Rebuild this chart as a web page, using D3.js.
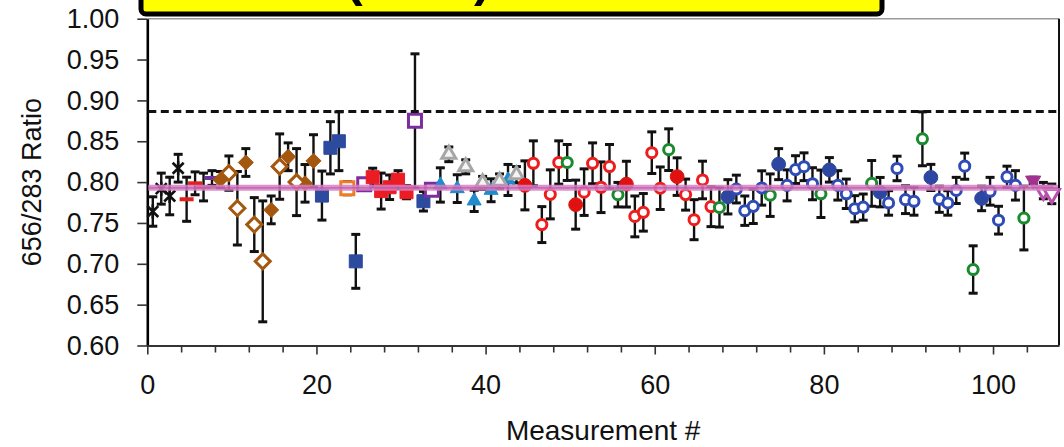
<!DOCTYPE html>
<html>
<head>
<meta charset="utf-8">
<script src="https://cdn.jsdelivr.net/npm/d3@7"></script>
<style>
  html, body { margin: 0; padding: 0; background: #ffffff; }
  svg { display: block; }
  text { font-family: "Liberation Sans", Arial, sans-serif; }
</style>
</head>
<body>
<svg id="chart" width="1064" height="447"></svg>
<script>
// ---------- DATA (measurement #, 656/283 ratio, ± error) ----------
const blackStars      = [[0.65,0.764,0.018],[1.65,0.792,0.019],[2.65,0.783,0.023],[3.65,0.817,0.017]];
const redDashes       = [[4.65,0.779,0.027],[5.65,0.7985,0.014],[6.65,0.794,0.017]];
const purpleDashes    = [[7.65,0.805,0.009]];
const brownDiamonds   = [[8.65,0.803,0.010],[11.65,0.824,0.017],[14.65,0.766,0.017],[16.65,0.831,0.017],[18.65,0.7985,0.023],[19.65,0.826,0.032]];
const brownOpenDiam   = [[9.65,0.811,0.021],[10.65,0.768,0.045],[12.65,0.748,0.033],[13.65,0.703,0.074],[15.65,0.819,0.040],[17.65,0.800,0.041]];
const blueSquares     = [[20.65,0.7835,0.030],[21.65,0.842,0.032],[22.65,0.850,0.036],[24.65,0.703,0.033],[32.65,0.7766,0.012]];
const orangeOpenSq    = [[23.65,0.7925,0.008]];
const purpleOpenSq    = [[25.65,0.7975,0.006],[31.65,0.875,0.082],[33.65,0.7905,0.006]];
const redSquares      = [[26.65,0.806,0.011],[27.65,0.789,0.022],[28.65,0.7937,0.015],[29.65,0.803,0.011],[30.65,0.7876,0.008]];
const blueTriangles   = [[34.65,0.7965,0.021],[36.65,0.792,0.017],[38.65,0.777,0.013],[40.65,0.790,0.014],[42.65,0.8026,0.019]];
const grayOpenTri     = [[35.65,0.834,0.009],[37.65,0.8187,0.0086],[39.65,0.799,0.008],[41.65,0.801,0.009],[43.65,0.809,0.010]];
const redDots         = [[44.65,0.796,0.030],[50.65,0.7724,0.030],[56.65,0.7975,0.028],[62.65,0.8067,0.023]];
const redRings        = [[45.65,0.823,0.0275],[46.65,0.748,0.022],[47.65,0.785,0.030],[48.65,0.824,0.0265],[51.65,0.7877,0.0285],[52.65,0.823,0.025],[53.65,0.7937,0.031],[54.65,0.819,0.027],[57.65,0.758,0.025],[58.65,0.763,0.023],[59.65,0.836,0.0255],[60.65,0.7925,0.026],[63.65,0.7847,0.019],[64.65,0.754,0.0245],[65.65,0.8026,0.023],[66.65,0.770,0.0245]];
const greenRings      = [[49.65,0.824,0.022],[55.65,0.7846,0.015],[61.65,0.8397,0.0255],[67.65,0.769,0.024],[73.65,0.784,0.026],[79.65,0.7857,0.029],[85.65,0.7984,0.028],[91.65,0.853,0.033],[97.65,0.693,0.029],[103.65,0.756,0.039]];
const navyDots        = [[68.65,0.782,0.021],[74.65,0.822,0.019],[80.65,0.815,0.015],[86.65,0.7877,0.018],[92.65,0.8057,0.016],[98.65,0.780,0.015]];
const navyRings       = [[69.65,0.7915,0.017],[70.65,0.765,0.018],[71.65,0.7703,0.021],[72.65,0.7928,0.021],[75.65,0.796,0.019],[76.65,0.8153,0.017],[77.65,0.8188,0.017],[78.65,0.798,0.0196],[81.65,0.796,0.018],[82.65,0.7857,0.018],[83.65,0.7674,0.016],[84.65,0.7694,0.016],[87.65,0.7745,0.015],[88.65,0.8167,0.015],[89.65,0.7785,0.017],[90.65,0.7765,0.017],[93.65,0.779,0.016],[94.65,0.7745,0.015],[95.65,0.7898,0.016],[96.65,0.8195,0.016],[99.65,0.7888,0.017],[100.65,0.7534,0.017],[101.65,0.8065,0.013],[102.65,0.796,0.018]];
const magentaDownTri  = [[104.75,0.802,0.004]];
const magentaOpenDown = [[105.95,0.7896,0.010],[106.95,0.7856,0.012]];

const meanRatio   = 0.793;   // pink reference line
const limitRatio  = 0.8865;  // dashed line
const yTicks      = [0.60,0.65,0.70,0.75,0.80,0.85,0.90,0.95,1.00];
const xMajorTicks = [0,20,40,60,80,100];
const xMinorTicks = [4,8,12,16,24,28,32,36,44,48,52,56,64,68,72,76,84,88,92,96,104];
const titleParts  = ["RATIO", "(2016)", "RESULTS"];

// ---------- SERIES STYLES ----------
const series = [
  {data: blackStars,      shape: "star",    fill: "none",    stroke: "#111111"},
  {data: redDashes,       shape: "dash",    fill: "#e3201b", stroke: "none"},
  {data: purpleDashes,    shape: "dash",    fill: "#7030a0", stroke: "none"},
  {data: brownDiamonds,   shape: "diamond", fill: "#a3570f", stroke: "#a3570f"},
  {data: brownOpenDiam,   shape: "diamond", fill: "#ffffff", stroke: "#a3570f", open: true},
  {data: blueSquares,     shape: "square",  fill: "#2c4a9e", stroke: "#2c4a9e"},
  {data: orangeOpenSq,    shape: "square",  fill: "#ffffff", stroke: "#ef7c21", open: true},
  {data: purpleOpenSq,    shape: "square",  fill: "#ffffff", stroke: "#7b2f9d", open: true},
  {data: redSquares,      shape: "square",  fill: "#ec1c24", stroke: "#ec1c24"},
  {data: blueTriangles,   shape: "tri",     fill: "#1f8ccb", stroke: "#1f8ccb"},
  {data: grayOpenTri,     shape: "tri",     fill: "#f4f4f4", stroke: "#a6a6a6", open: true},
  {data: redDots,         shape: "circle",  fill: "#e0120f", stroke: "#e0120f"},
  {data: redRings,        shape: "ring",    fill: "#ffffff", stroke: "#ef1c1c", open: true},
  {data: greenRings,      shape: "ring",    fill: "#ffffff", stroke: "#1a8a2e", open: true},
  {data: navyDots,        shape: "circle",  fill: "#2d47a0", stroke: "#2d47a0"},
  {data: navyRings,       shape: "ring",    fill: "#ffffff", stroke: "#2f4bb5", open: true},
  {data: magentaDownTri,  shape: "down",    fill: "#a0338f", stroke: "#a0338f"},
  {data: magentaOpenDown, shape: "down",    fill: "#ffffff", stroke: "#b850ae", open: true}
];

// ---------- SCALES ----------
const svg = d3.select("#chart");
const x = d3.scaleLinear().domain([0, 107.8]).range([147.3, 1059]);
const y = d3.scaleLinear().domain([0.6, 1.0]).range([345.5, 18.7]);
const x0 = x.range()[0], x1 = x.range()[1], yTop = y(1.0), yBot = y(0.6);

// plot frame (top grey, right black)
svg.append("line").attr("x1", x0).attr("x2", x1).attr("y1", yTop).attr("y2", yTop)
  .attr("stroke", "#9a9a9a").attr("stroke-width", 1.6);
svg.append("line").attr("x1", x1).attr("x2", x1).attr("y1", yTop).attr("y2", yBot)
  .attr("stroke", "#111").attr("stroke-width", 2);

// ---------- AXES ----------
const yAxis = svg.append("g").attr("transform", `translate(${x0},0)`)
  .call(d3.axisLeft(y).tickValues(yTicks).tickFormat(d3.format(".2f")).tickSize(10).tickSizeOuter(0).tickPadding(18));
yAxis.select(".domain").attr("stroke", "#000").attr("stroke-width", 2.6);
yAxis.selectAll(".tick line").attr("stroke", "#333").attr("stroke-width", 1.6);
yAxis.selectAll("text").attr("font-size", 27).attr("fill", "#111").attr("font-family", "Liberation Sans, Arial, sans-serif");

const xAxis = svg.append("g").attr("transform", `translate(0,${yBot})`)
  .call(d3.axisBottom(x).tickValues(xMajorTicks).tickFormat(d3.format("d")).tickSize(9).tickSizeOuter(0).tickPadding(20));
xAxis.select(".domain").attr("stroke", "#333").attr("stroke-width", 2);
xAxis.selectAll(".tick line").attr("stroke", "#333").attr("stroke-width", 1.6);
xAxis.selectAll("text").attr("font-size", 27).attr("fill", "#111").attr("font-family", "Liberation Sans, Arial, sans-serif");

const xMinor = svg.append("g").attr("transform", `translate(0,${yBot})`)
  .call(d3.axisBottom(x).tickValues(xMinorTicks).tickFormat("").tickSize(7).tickSizeOuter(0));
xMinor.select(".domain").remove();
xMinor.selectAll(".tick line").attr("stroke", "#333").attr("stroke-width", 1.6);

// axis titles
svg.append("text").attr("x", (x0 + x1) / 2).attr("y", 440).attr("text-anchor", "middle")
  .attr("font-size", 28).attr("fill", "#111").text("Measurement #");
svg.append("text").attr("transform", `translate(41,${(yTop + yBot) / 2}) rotate(-90)`)
  .attr("text-anchor", "middle").attr("font-size", 27).attr("fill", "#111").text("656/283 Ratio");

// ---------- ERROR BARS ----------
const all = series.flatMap(s => s.data);
const eb = svg.append("g");
eb.selectAll("line.v").data(all).join("line")
  .attr("x1", d => x(d[0])).attr("x2", d => x(d[0]))
  .attr("y1", d => y(d[1] + d[2])).attr("y2", d => y(d[1] - d[2]))
  .attr("stroke", "#111").attr("stroke-width", 2.4);
eb.selectAll("line.t").data(all).join("line")
  .attr("x1", d => x(d[0]) - 4.5).attr("x2", d => x(d[0]) + 4.5)
  .attr("y1", d => y(d[1] + d[2])).attr("y2", d => y(d[1] + d[2]))
  .attr("stroke", "#111").attr("stroke-width", 3);
eb.selectAll("line.b").data(all).join("line")
  .attr("x1", d => x(d[0]) - 4.5).attr("x2", d => x(d[0]) + 4.5)
  .attr("y1", d => y(d[1] - d[2])).attr("y2", d => y(d[1] - d[2]))
  .attr("stroke", "#111").attr("stroke-width", 3);

// ---------- MARKERS ----------
const paths = {
  star: "M-5.5,-5.5L5.5,5.5M-5.5,5.5L5.5,-5.5M0,-7L0,7",
  dash: "M-7,-2H7V2H-7Z",
  square: d3.symbol(d3.symbolSquare, 169)(),
  diamond: "M0,-7.5L7.5,0L0,7.5L-7.5,0Z",
  tri: d3.symbol(d3.symbolTriangle, 85)(),
  circle: d3.symbol(d3.symbolCircle, 150)(),
  ring: d3.symbol(d3.symbolCircle, 80)(),
  down: d3.symbol(d3.symbolTriangle, 100)()
};
const mk = svg.append("g");
series.forEach(s => {
  mk.append("g").selectAll("path").data(s.data).join("path")
    .attr("d", paths[s.shape])
    .attr("transform", d => `translate(${x(d[0])},${y(d[1])})` + (s.shape === "down" ? " rotate(180)" : ""))
    .attr("fill", s.fill)
    .attr("stroke", s.stroke)
    .attr("stroke-width", s.shape === "star" ? 2.6 : (s.open ? 3 : 1));
});

// ---------- REFERENCE LINES ----------
svg.append("line").attr("x1", x0 + 1).attr("x2", x1 - 1).attr("y1", y(meanRatio)).attr("y2", y(meanRatio))
  .attr("stroke", "#d77fc4").attr("stroke-width", 6).attr("opacity", 0.85);
svg.append("line").attr("x1", x0 + 1).attr("x2", x1 - 1).attr("y1", y(meanRatio)).attr("y2", y(meanRatio))
  .attr("stroke", "#b64a9e").attr("stroke-width", 1.2).attr("opacity", 0.7);
svg.append("line").attr("x1", x0 + 1).attr("x2", x1 - 1).attr("y1", y(limitRatio)).attr("y2", y(limitRatio))
  .attr("stroke", "#111").attr("stroke-width", 3).attr("stroke-dasharray", "8,4.5");

// ---------- TITLE BOX (mostly above the picture) ----------
svg.append("rect").attr("x", 141).attr("y", -40).attr("width", 741).attr("height", 54)
  .attr("rx", 5).attr("fill", "#ffff00").attr("stroke", "#000").attr("stroke-width", 5);
const title = svg.append("text").attr("y", -4).attr("font-size", 50).attr("font-weight", "bold").attr("fill", "#000");
title.append("tspan").attr("x", 340).attr("text-anchor", "end").text(titleParts[0]);
title.append("tspan").attr("x", 346).attr("text-anchor", "start").text(titleParts[1]);
title.append("tspan").attr("dx", 10).text(titleParts[2]);
</script>
</body>
</html>
